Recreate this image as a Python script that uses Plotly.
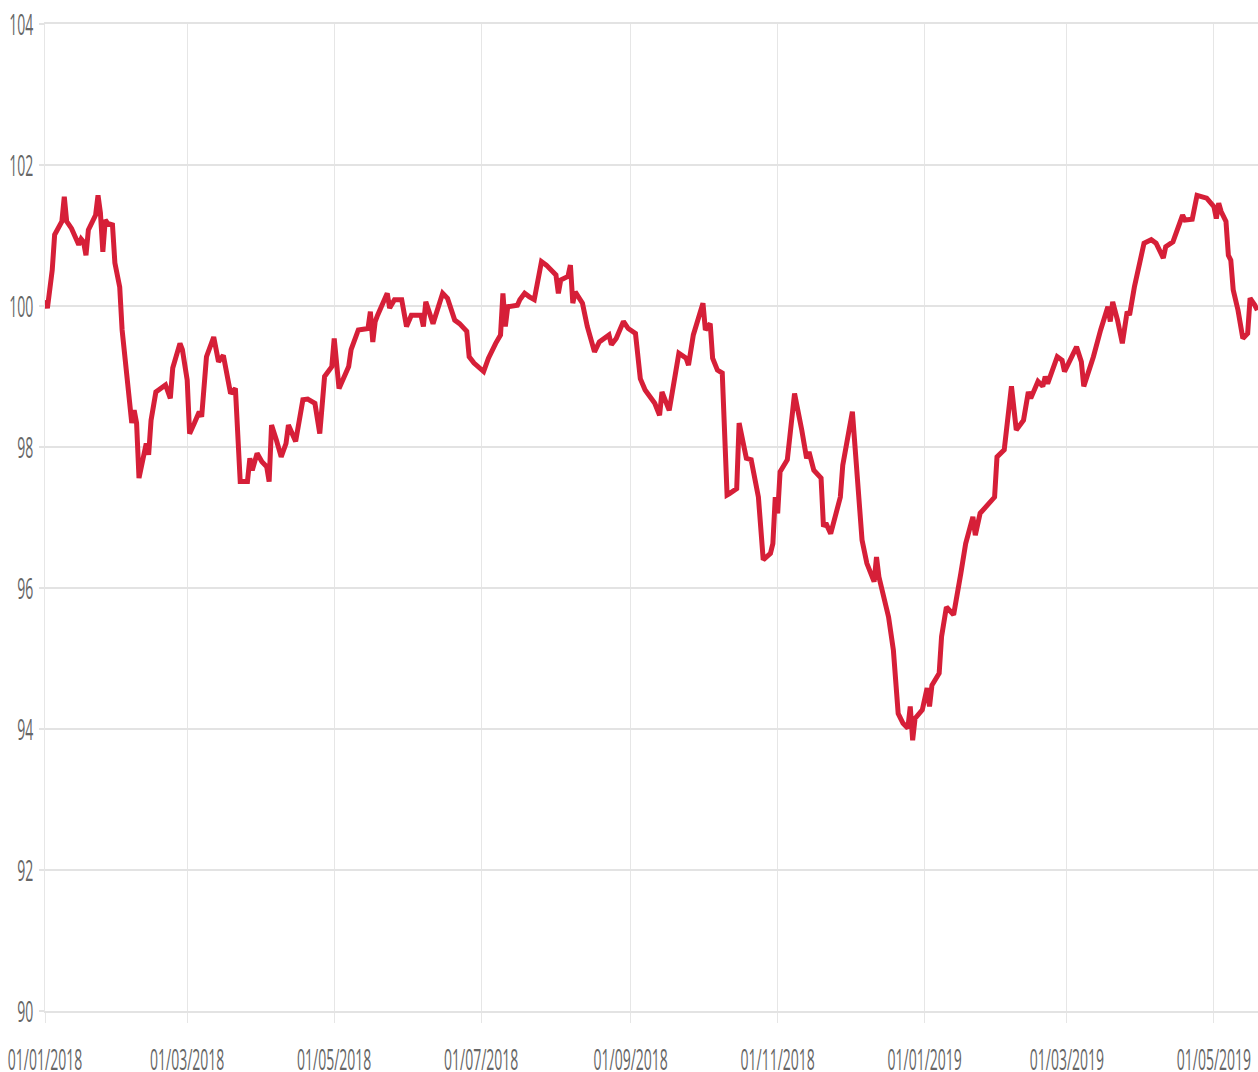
import plotly.graph_objects as go

dates = [
    "2018-01-01", "2018-01-02", "2018-01-04", "2018-01-05", "2018-01-08", "2018-01-09", "2018-01-10",
    "2018-01-12", "2018-01-15", "2018-01-16", "2018-01-17", "2018-01-18", "2018-01-19", "2018-01-22",
    "2018-01-23", "2018-01-24", "2018-01-25", "2018-01-26", "2018-01-27", "2018-01-29", "2018-01-30",
    "2018-02-01", "2018-02-02", "2018-02-04", "2018-02-06", "2018-02-07", "2018-02-08", "2018-02-09",
    "2018-02-12", "2018-02-13", "2018-02-14", "2018-02-16", "2018-02-18", "2018-02-20", "2018-02-22",
    "2018-02-23", "2018-02-26", "2018-02-27", "2018-03-01", "2018-03-02", "2018-03-04", "2018-03-06",
    "2018-03-07", "2018-03-09", "2018-03-12", "2018-03-14", "2018-03-16", "2018-03-17", "2018-03-19",
    "2018-03-21", "2018-03-23", "2018-03-26", "2018-03-27", "2018-03-28", "2018-03-30", "2018-04-01",
    "2018-04-03", "2018-04-04", "2018-04-05", "2018-04-07", "2018-04-09", "2018-04-11", "2018-04-12",
    "2018-04-15", "2018-04-18", "2018-04-20", "2018-04-23", "2018-04-25", "2018-04-27", "2018-04-30",
    "2018-05-01", "2018-05-03", "2018-05-07", "2018-05-08", "2018-05-11", "2018-05-15", "2018-05-16",
    "2018-05-17", "2018-05-18", "2018-05-19", "2018-05-23", "2018-05-24", "2018-05-26", "2018-05-29",
    "2018-05-31", "2018-06-02", "2018-06-06", "2018-06-07", "2018-06-08", "2018-06-11", "2018-06-15",
    "2018-06-17", "2018-06-20", "2018-06-22", "2018-06-25", "2018-06-26", "2018-06-28", "2018-07-02",
    "2018-07-04", "2018-07-07", "2018-07-09", "2018-07-10", "2018-07-11", "2018-07-12", "2018-07-16",
    "2018-07-17", "2018-07-19", "2018-07-21", "2018-07-23", "2018-07-26", "2018-07-28", "2018-08-01",
    "2018-08-02", "2018-08-03", "2018-08-06", "2018-08-07", "2018-08-08", "2018-08-09", "2018-08-12",
    "2018-08-14", "2018-08-17", "2018-08-19", "2018-08-23", "2018-08-24", "2018-08-26", "2018-08-29",
    "2018-08-31", "2018-09-03", "2018-09-05", "2018-09-07", "2018-09-11", "2018-09-13", "2018-09-14",
    "2018-09-17", "2018-09-19", "2018-09-21", "2018-09-24", "2018-09-25", "2018-09-27", "2018-10-01",
    "2018-10-02", "2018-10-04", "2018-10-05", "2018-10-07", "2018-10-09", "2018-10-11", "2018-10-12",
    "2018-10-15", "2018-10-16", "2018-10-19", "2018-10-21", "2018-10-24", "2018-10-26", "2018-10-29",
    "2018-10-30", "2018-10-31", "2018-11-01", "2018-11-02", "2018-11-05", "2018-11-08", "2018-11-11",
    "2018-11-13", "2018-11-14", "2018-11-16", "2018-11-19", "2018-11-20", "2018-11-21", "2018-11-23",
    "2018-11-27", "2018-11-28", "2018-12-02", "2018-12-06", "2018-12-08", "2018-12-11", "2018-12-12",
    "2018-12-13", "2018-12-17", "2018-12-19", "2018-12-21", "2018-12-23", "2018-12-25", "2018-12-26",
    "2018-12-27", "2018-12-28", "2018-12-31", "2019-01-02", "2019-01-03", "2019-01-04", "2019-01-07",
    "2019-01-08", "2019-01-10", "2019-01-13", "2019-01-16", "2019-01-18", "2019-01-21", "2019-01-22",
    "2019-01-24", "2019-01-28", "2019-01-30", "2019-01-31", "2019-02-03", "2019-02-06", "2019-02-08",
    "2019-02-11", "2019-02-13", "2019-02-14", "2019-02-17", "2019-02-19", "2019-02-20", "2019-02-21",
    "2019-02-25", "2019-02-27", "2019-02-28", "2019-03-05", "2019-03-07", "2019-03-08", "2019-03-10",
    "2019-03-12", "2019-03-15", "2019-03-18", "2019-03-19", "2019-03-20", "2019-03-22", "2019-03-24",
    "2019-03-26", "2019-03-27", "2019-03-29", "2019-03-31", "2019-04-02", "2019-04-05", "2019-04-07",
    "2019-04-10", "2019-04-11", "2019-04-14", "2019-04-16", "2019-04-18", "2019-04-19", "2019-04-22",
    "2019-04-24", "2019-04-26", "2019-04-28", "2019-05-01", "2019-05-02", "2019-05-03", "2019-05-04",
    "2019-05-06", "2019-05-07", "2019-05-08", "2019-05-09", "2019-05-11", "2019-05-13", "2019-05-15",
    "2019-05-16", "2019-05-18", "2019-05-19",
]

values = [
    100.08, 99.97, 100.51, 101.01, 101.20, 101.55, 101.20,
    101.10, 100.87, 100.95, 100.91, 100.72, 101.08, 101.29,
    101.57, 101.32, 100.77, 101.22, 101.17, 101.15, 100.61,
    100.27, 99.66, 98.95, 98.34, 98.52, 98.34, 97.56,
    98.05, 97.89, 98.38, 98.78, 98.83, 98.88, 98.69,
    99.12, 99.47, 99.38, 98.95, 98.19, 98.34, 98.50,
    98.43, 99.28, 99.56, 99.21, 99.30, 99.09, 98.76,
    98.83, 97.51, 97.51, 97.84, 97.67, 97.91, 97.79,
    97.72, 97.51, 98.31, 98.10, 97.86, 98.05, 98.31,
    98.08, 98.67, 98.68, 98.62, 98.19, 99.00, 99.14,
    99.54, 98.83, 99.14, 99.38, 99.66, 99.68, 99.92,
    99.49, 99.78, 99.87, 100.18, 99.97, 100.09, 100.09,
    99.71, 99.87, 99.87, 99.71, 100.06, 99.75, 100.18,
    100.11, 99.80, 99.75, 99.64, 99.28, 99.19, 99.07,
    99.26, 99.47, 99.59, 100.18, 99.71, 99.99, 100.01,
    100.09, 100.18, 100.13, 100.09, 100.63, 100.58, 100.44,
    100.18, 100.37, 100.42, 100.58, 100.04, 100.20, 100.04,
    99.71, 99.35, 99.49, 99.59, 99.45, 99.54, 99.78,
    99.68, 99.61, 98.97, 98.81, 98.62, 98.45, 98.78,
    98.52, 98.97, 99.33, 99.26, 99.16, 99.59, 100.04,
    99.66, 99.75, 99.26, 99.09, 99.05, 97.32, 97.34,
    97.41, 98.34, 97.84, 97.82, 97.29, 96.40, 96.49,
    96.63, 97.29, 97.06, 97.65, 97.82, 98.76, 98.24,
    97.84, 97.93, 97.67, 97.56, 96.87, 96.92, 96.77,
    97.29, 97.74, 98.50, 96.68, 96.35, 96.09, 96.44,
    96.16, 95.59, 95.12, 94.22, 94.08, 94.01, 94.32,
    93.84, 94.15, 94.27, 94.58, 94.32, 94.62, 94.79,
    95.31, 95.73, 95.62, 96.21, 96.63, 97.01, 96.75,
    97.06, 97.22, 97.29, 97.86, 97.96, 98.86, 98.24,
    98.38, 98.78, 98.69, 98.93, 98.86, 99.00, 98.90,
    99.28, 99.23, 99.07, 99.42, 99.21, 98.86, 99.05,
    99.28, 99.66, 99.99, 99.78, 100.06, 99.80, 99.47,
    99.92, 99.87, 100.27, 100.58, 100.89, 100.94, 100.89,
    100.68, 100.84, 100.91, 101.08, 101.29, 101.22, 101.23,
    101.57, 101.55, 101.53, 101.41, 101.24, 101.46, 101.34,
    101.20, 100.72, 100.65, 100.23, 99.94, 99.54, 99.61,
    100.11, 100.01, 99.94,
]

x_tick_vals = ["2018-01-01", "2018-03-01", "2018-05-01", "2018-07-01", "2018-09-01",
               "2018-11-01", "2019-01-01", "2019-03-01", "2019-05-01"]
x_tick_text = ["01/01/2018", "01/03/2018", "01/05/2018", "01/07/2018", "01/09/2018",
               "01/11/2018", "01/01/2019", "01/03/2019", "01/05/2019"]
y_tick_vals = [90, 92, 94, 96, 98, 100, 102, 104]

fig = go.Figure()
fig.add_trace(go.Scatter(
    x=dates, y=values, mode="lines",
    line=dict(color="#d61f38", width=5),
    hoverinfo="x+y", showlegend=False,
))

fig.update_layout(
    width=1258, height=1072,
    margin=dict(l=45, r=0, t=24, b=61, autoexpand=False),
    paper_bgcolor="white", plot_bgcolor="white",
    font=dict(family="Open Sans", size=14, color="#666666"),
    showlegend=False,
)
fig.update_xaxes(
    type="date",
    range=["2018-01-01", "2019-05-19 07:00"],
    tickvals=x_tick_vals, ticktext=x_tick_text,
    showgrid=True, gridcolor="#e6e6e6", gridwidth=1,
    ticks="outside", ticklen=10, tickcolor="#e6e6e6", tickwidth=1,
    ticklabelstandoff=24,
    showline=True, linecolor="#e3e3e3", linewidth=2, mirror=True,
    zeroline=False, automargin=False,
)
fig.update_yaxes(
    range=[90, 104],
    tickvals=y_tick_vals,
    showgrid=True, gridcolor="#e3e3e3", gridwidth=2,
    ticks="outside", ticklen=5, tickcolor="#e3e3e3", tickwidth=2,
    ticklabelstandoff=3,
    showline=True, linecolor="#e6e6e6", linewidth=1, mirror=False,
    zeroline=False, automargin=False,
)

post = """
document.documentElement.style.margin = '0';
document.body.style.margin = '0';
document.body.style.padding = '0';
var gd = document.getElementById('{plot_id}');
function stretchTicks(){
  gd.querySelectorAll('.xtick text, .ytick text').forEach(function(t){
    var tr = t.getAttribute('transform') || '';
    if (tr.indexOf('scale(') >= 0) return;
    var b = t.getBBox();
    var cx = b.x + b.width / 2, cy = b.y + b.height / 2;
    t.setAttribute('transform', tr + ' translate(' + cx + ',' + cy + ') scale(1,2.1) translate(' + (-cx) + ',' + (-cy) + ')');
  });
}
stretchTicks();
gd.on('plotly_afterplot', stretchTicks);
"""

fig.write_html("out.html", post_script=post, config={"displayModeBar": False})
